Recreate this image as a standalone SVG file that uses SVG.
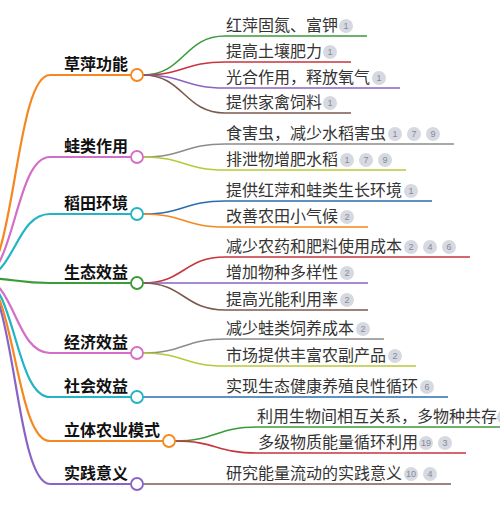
<svg xmlns="http://www.w3.org/2000/svg" width="500" height="509" viewBox="0 0 500 509">
<style>
.l1{fill:none;stroke-width:2.2}
.l2{fill:none;stroke-width:1.6}
.h{font-family:"Noto Sans CJK SC","Noto Sans",sans-serif;font-size:16px;font-weight:bold;fill:#111}
.t{font-family:"Noto Sans CJK SC","Noto Sans",sans-serif;font-size:16px;fill:#333}
.b circle{fill:#d6d9e1}
.b text{font-family:"Liberation Sans",Arial,sans-serif;font-size:9px;fill:#868b95;text-anchor:middle}
.dot{fill:#fff;stroke-width:1.8}
</style>
<rect width="500" height="509" fill="#fff"/>
<g id="connectors">
<path class="l1" stroke="#f5871f" d="M-20 278C15 278 15 75 50 75H131"/>
<path class="l1" stroke="#d36ec6" d="M-20 278C15 278 15 157 50 157H131"/>
<path class="l1" stroke="#22b4c4" d="M-20 278C15 278 15 214 50 214H131"/>
<path class="l1" stroke="#3b9b3b" d="M-20 278C15 278 15 283 50 283H131"/>
<path class="l1" stroke="#d36ec6" d="M-20 278C15 278 15 353 50 353H131"/>
<path class="l1" stroke="#22b4c4" d="M-20 278C15 278 15 397 50 397H131"/>
<path class="l1" stroke="#f5871f" d="M-20 278C15 278 15 441 50 441H163"/>
<path class="l1" stroke="#8a63c6" d="M-20 278C15 278 15 484 50 484H131"/>
<path class="l2" stroke="#3b9b3b" d="M143 75C184 75 184 36 225 36H367"/>
<path class="l2" stroke="#c8353e" d="M143 75C184 75 184 62 225 62H351"/>
<path class="l2" stroke="#8a63c6" d="M143 75C184 75 184 88 225 88H400"/>
<path class="l2" stroke="#7b5a50" d="M143 75C184 75 184 113 225 113H351"/>
<path class="l2" stroke="#8c8c8c" d="M143 157C184 157 184 144 225 144H454"/>
<path class="l2" stroke="#b9c83a" d="M143 157C184 157 184 170 225 170H406"/>
<path class="l2" stroke="#2b6cb0" d="M143 214C184 214 184 201 225 201H432"/>
<path class="l2" stroke="#f5871f" d="M143 214C184 214 184 227 225 227H368"/>
<path class="l2" stroke="#c8353e" d="M143 283C184 283 184 257 225 257H470"/>
<path class="l2" stroke="#8a63c6" d="M143 283H368"/>
<path class="l2" stroke="#7b5a50" d="M143 283C184 283 184 310 225 310H368"/>
<path class="l2" stroke="#8c8c8c" d="M143 353C184 353 184 339 225 339H384"/>
<path class="l2" stroke="#b9c83a" d="M143 353C184 353 184 366 225 366H416"/>
<path class="l2" stroke="#2b6cb0" d="M143 397H448"/>
<path class="l2" stroke="#3b9b3b" d="M175 441C216 441 216 427 257 427H520"/>
<path class="l2" stroke="#c8353e" d="M175 441C216 441 216 453 257 453H466"/>
<path class="l2" stroke="#7b5a50" d="M143 484H451"/>
</g>
<g id="n1"><text class="h" x="64" y="70">草萍功能</text><circle class="dot" stroke="#f5871f" cx="137" cy="75" r="6"/></g>
<g id="n2"><text class="h" x="64" y="152">蛙类作用</text><circle class="dot" stroke="#d36ec6" cx="137" cy="157" r="6"/></g>
<g id="n3"><text class="h" x="64" y="209">稻田环境</text><circle class="dot" stroke="#22b4c4" cx="137" cy="214" r="6"/></g>
<g id="n4"><text class="h" x="64" y="278">生态效益</text><circle class="dot" stroke="#3b9b3b" cx="137" cy="283" r="6"/></g>
<g id="n5"><text class="h" x="64" y="348">经济效益</text><circle class="dot" stroke="#d36ec6" cx="137" cy="353" r="6"/></g>
<g id="n6"><text class="h" x="64" y="392">社会效益</text><circle class="dot" stroke="#22b4c4" cx="137" cy="397" r="6"/></g>
<g id="n7"><text class="h" x="64" y="436">立体农业模式</text><circle class="dot" stroke="#f5871f" cx="169" cy="441" r="6"/></g>
<g id="n8"><text class="h" x="64" y="479">实践意义</text><circle class="dot" stroke="#8a63c6" cx="137" cy="484" r="6"/></g>

<g id="c1"><text class="t" x="226" y="31">红萍固氮、富钾</text><g class="b"><circle cx="346" cy="26" r="7"/><text x="346" y="29">1</text></g></g>
<g id="c2"><text class="t" x="226" y="57">提高土壤肥力</text><g class="b"><circle cx="330" cy="52" r="7"/><text x="330" y="55">1</text></g></g>
<g id="c3"><text class="t" x="226" y="83">光合作用，释放氧气</text><g class="b"><circle cx="379" cy="78" r="7"/><text x="379" y="81">1</text></g></g>
<g id="c4"><text class="t" x="226" y="108">提供家禽饲料</text><g class="b"><circle cx="330" cy="103" r="7"/><text x="330" y="106">1</text></g></g>
<g id="c5"><text class="t" x="226" y="139">食害虫，减少水稻害虫</text><g class="b"><circle cx="395" cy="134" r="7"/><text x="395" y="137">1</text><circle cx="414" cy="134" r="7"/><text x="414" y="137">7</text><circle cx="433" cy="134" r="7"/><text x="433" y="137">9</text></g></g>
<g id="c6"><text class="t" x="226" y="165">排泄物增肥水稻</text><g class="b"><circle cx="347" cy="160" r="7"/><text x="347" y="163">1</text><circle cx="366" cy="160" r="7"/><text x="366" y="163">7</text><circle cx="385" cy="160" r="7"/><text x="385" y="163">9</text></g></g>
<g id="c7"><text class="t" x="226" y="196">提供红萍和蛙类生长环境</text><g class="b"><circle cx="411" cy="191" r="7"/><text x="411" y="194">1</text></g></g>
<g id="c8"><text class="t" x="226" y="222">改善农田小气候</text><g class="b"><circle cx="347" cy="217" r="7"/><text x="347" y="220">2</text></g></g>
<g id="c9"><text class="t" x="226" y="252">减少农药和肥料使用成本</text><g class="b"><circle cx="411" cy="247" r="7"/><text x="411" y="250">2</text><circle cx="430" cy="247" r="7"/><text x="430" y="250">4</text><circle cx="449" cy="247" r="7"/><text x="449" y="250">6</text></g></g>
<g id="c10"><text class="t" x="226" y="278">增加物种多样性</text><g class="b"><circle cx="347" cy="273" r="7"/><text x="347" y="276">2</text></g></g>
<g id="c11"><text class="t" x="226" y="305">提高光能利用率</text><g class="b"><circle cx="347" cy="300" r="7"/><text x="347" y="303">2</text></g></g>
<g id="c12"><text class="t" x="226" y="334">减少蛙类饲养成本</text><g class="b"><circle cx="363" cy="329" r="7"/><text x="363" y="332">2</text></g></g>
<g id="c13"><text class="t" x="226" y="361">市场提供丰富农副产品</text><g class="b"><circle cx="395" cy="356" r="7"/><text x="395" y="359">2</text></g></g>
<g id="c14"><text class="t" x="226" y="392">实现生态健康养殖良性循环</text><g class="b"><circle cx="427" cy="387" r="7"/><text x="427" y="390">6</text></g></g>
<g id="c15"><text class="t" x="257" y="422">利用生物间相互关系，多物种共存</text><g class="b"><circle cx="504" cy="417" r="7"/></g></g>
<g id="c16"><text class="t" x="258" y="448">多级物质能量循环利用</text><g class="b"><circle cx="426" cy="443" r="7"/><text x="426" y="446">19</text><circle cx="445" cy="443" r="7"/><text x="445" y="446">3</text></g></g>
<g id="c17"><text class="t" x="226" y="479">研究能量流动的实践意义</text><g class="b"><circle cx="411" cy="474" r="7"/><text x="411" y="477">10</text><circle cx="430" cy="474" r="7"/><text x="430" y="477">4</text></g></g>
</svg>
